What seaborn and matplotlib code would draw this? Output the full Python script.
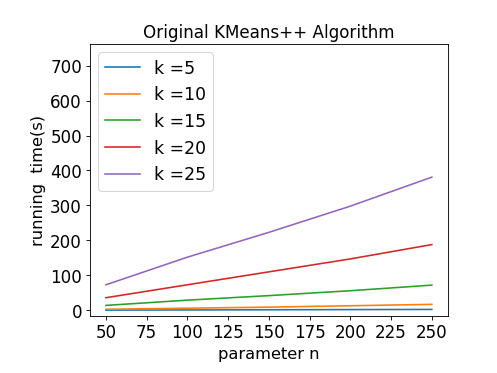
import matplotlib.pyplot as plt
import seaborn as sns
import pandas as pd

n_values = [50, 100, 150, 200, 250]
k_labels = ['k =5', 'k =10', 'k =15', 'k =20', 'k =25']
time_k5 = [0.5, 1.0, 1.5, 2.0, 2.5]
time_k10 = [3, 6, 9, 13, 17]
time_k15 = [14, 29, 42, 56, 72]
time_k20 = [36, 73, 110, 147, 188]
time_k25 = [73, 152, 223, 298, 381]

series = [time_k5, time_k10, time_k15, time_k20, time_k25]
rows = []
for lab, vals in zip(k_labels, series):
    for n, t in zip(n_values, vals):
        rows.append({'n': n, 'time': t, 'k': lab})
df = pd.DataFrame(rows)

fig, ax = plt.subplots(figsize=(6.4, 4.8), dpi=77.8)
sns.lineplot(data=df, x='n', y='time', hue='k', palette='tab10', ax=ax)
ax.set_ylim(-17, 763)
ax.set_yticks(range(0, 701, 100))
ax.set_xticks(range(50, 251, 25))
ax.tick_params(labelsize=15.5)
ax.set_title('Original KMeans++ Algorithm', fontsize=15.5)
ax.set_xlabel('parameter n', fontsize=15)
ax.set_ylabel('running  time(s)', fontsize=15)
ax.legend(loc='upper left', fontsize=16, title=None)
fig.subplots_adjust(left=0.18, bottom=0.152, right=0.9, top=0.882)
fig.savefig('out.png', dpi=77.8)
